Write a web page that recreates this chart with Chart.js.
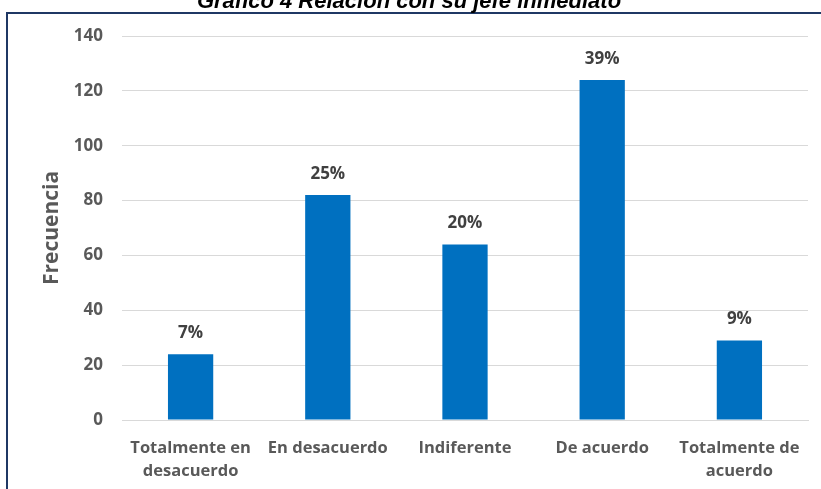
<!DOCTYPE html>
<html>
<head>
<meta charset="utf-8">
<script src="https://cdn.jsdelivr.net/npm/chart.js@4"></script>
<style>
  html, body { margin: 0; padding: 0; background: #fff; }
  #wrap { width: 821px; height: 489px; position: relative; }
</style>
</head>
<body>
<div id="wrap"><canvas id="chart" width="821" height="489"></canvas></div>
<script>
// ===== Datos =====
const categorias = [
  ['Totalmente en', 'desacuerdo'],
  'En desacuerdo',
  'Indiferente',
  'De acuerdo',
  ['Totalmente de', 'acuerdo']
];
const frecuencias = [24, 82, 64, 124, 29];
const porcentajes = ['7%', '25%', '20%', '39%', '9%'];
const ticksY = [0, 20, 40, 60, 80, 100, 120, 140];

const tituloGrafico = 'Gráfico 4 Relación con su jefe inmediato';
const tituloEje = 'Frecuencia';

// --- Marco y título (arriba, cortado como en el original) ---
const marcoPlugin = {
  id: 'marco',
  beforeDraw(chart) {
    const ctx = chart.ctx;
    ctx.save();
    ctx.fillStyle = '#fff';
    ctx.fillRect(0, 0, chart.width, chart.height);
    ctx.strokeStyle = '#1f3864';
    ctx.lineWidth = 2;
    ctx.strokeRect(7, 13, chart.width + 10, chart.height + 10);
    ctx.fillStyle = '#000';
    ctx.font = 'italic bold 22px "Liberation Sans", Arial, sans-serif';
    ctx.textAlign = 'center';
    ctx.textBaseline = 'alphabetic';
    ctx.fillText(tituloGrafico, 409, 8);
    ctx.restore();
  }
};

// --- Etiquetas de porcentaje sobre las barras ---
const etiquetasPlugin = {
  id: 'etiquetas',
  afterDatasetsDraw(chart) {
    const ctx = chart.ctx;
    const meta = chart.getDatasetMeta(0);
    ctx.save();
    ctx.fillStyle = '#404040';
    ctx.font = 'bold 17px "Open Sans", sans-serif';
    ctx.textAlign = 'center';
    ctx.textBaseline = 'middle';
    meta.data.forEach((bar, i) => {
      ctx.fillText(porcentajes[i], bar.x, bar.y - 21);
    });
    ctx.restore();
  }
};

const ctx = document.getElementById('chart').getContext('2d');
new Chart(ctx, {
  type: 'bar',
  data: {
    labels: categorias,
    datasets: [{
      label: tituloEje,
      data: frecuencias,
      backgroundColor: '#0070c0',
      categoryPercentage: 1,
      barPercentage: 0.33
    }]
  },
  options: {
    responsive: false,
    animation: false,
    layout: { padding: { top: 36, right: 13, bottom: 0, left: 39 } },
    plugins: {
      legend: { display: false },
      title: { display: false },
      tooltip: { enabled: false }
    },
    scales: {
      x: {
        grid: { display: false },
        border: { display: true, color: '#d9d9d9', width: 1 },
        ticks: {
          color: '#595959',
          font: { family: '"Open Sans", sans-serif', size: 16.5, weight: 'bold', lineHeight: 1.4 },
          padding: 9,
          maxRotation: 0,
          autoSkip: false
        },
        afterFit(scale) { scale.height = 69; }
      },
      y: {
        min: 0,
        max: 140,
        afterBuildTicks(scale) { scale.ticks = ticksY.map(v => ({ value: v })); },
        grid: { color: '#d9d9d9', lineWidth: 1, drawTicks: false },
        border: { display: false },
        ticks: {
          color: '#595959',
          font: { family: '"Open Sans", sans-serif', size: 17, weight: 'bold' },
          padding: 19
        },
        title: {
          display: true,
          text: tituloEje,
          color: '#595959',
          font: { family: '"Open Sans", sans-serif', size: 21, weight: 'bold' },
          padding: 0
        },
        afterFit(scale) { scale.width = 83; }
      }
    }
  },
  plugins: [marcoPlugin, etiquetasPlugin]
});
</script>
</body>
</html>
